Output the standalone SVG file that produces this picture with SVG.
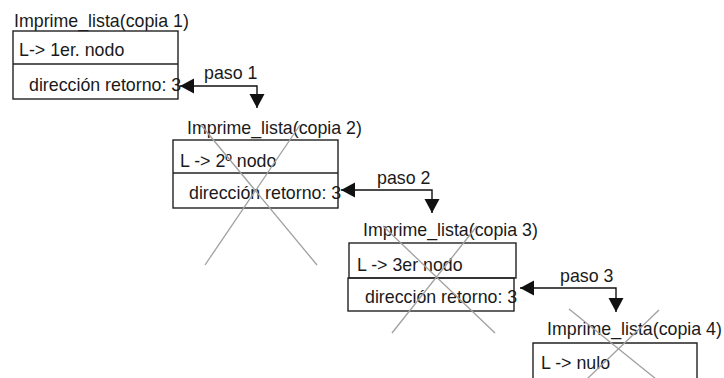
<svg xmlns="http://www.w3.org/2000/svg" width="724" height="378" viewBox="0 0 724 378">
<style>
text{font-family:"Liberation Sans",Arial,sans-serif;font-size:17.8px;fill:#1a1a1a}
.box{fill:none;stroke:#222;stroke-width:1.4}
.cross{stroke:#a0a0a0;stroke-width:1.3;fill:none}
.conn{fill:none;stroke:#111;stroke-width:1.4}
</style>
<defs>
<marker id="ah" markerUnits="userSpaceOnUse" markerWidth="16" markerHeight="16" refX="14" refY="7.5" orient="auto-start-reverse" viewBox="0 0 16 16">
<path d="M0,0 L14,7.5 L0,15 z" fill="#111"/>
</marker>
</defs>
<rect width="724" height="378" fill="#fff"/>
<g id="copia1">
<text x="14" y="27">Imprime_lista(copia 1)</text>
<rect class="box" x="13" y="31" width="165" height="68"/>
<line class="box" x1="13" y1="64" x2="178" y2="64"/>
<text x="19" y="56">L-&gt; 1er. nodo</text>
<text x="29" y="91">dirección retorno: 3</text>
</g>
<g id="copia2">
<text x="187" y="134">Imprime_lista(copia 2)</text>
<rect class="box" x="173" y="140" width="165" height="68"/>
<line class="box" x1="173" y1="173" x2="338" y2="173"/>
<text x="180" y="167">L -&gt; 2º nodo</text>
<text x="189" y="199">dirección retorno: 3</text>
<line class="cross" x1="201" y1="125" x2="317" y2="265"/>
<line class="cross" x1="300" y1="125" x2="205" y2="265"/>
</g>
<g id="copia3">
<text x="363" y="236">Imprime_lista(copia 3)</text>
<rect class="box" x="349" y="243" width="167" height="35"/>
<rect class="box" x="348" y="278" width="166" height="33"/>
<text x="357" y="271">L -&gt; 3er nodo</text>
<text x="365" y="303">dirección retorno: 3</text>
<line class="cross" x1="383" y1="226" x2="495" y2="333"/>
<line class="cross" x1="477" y1="226" x2="392" y2="333"/>
</g>
<g id="copia4">
<text x="547" y="335">Imprime_lista(copia 4)</text>
<path class="box" d="M533,380 V343 H697 V380"/>
<text x="541" y="369">L -&gt; nulo</text>
<line class="cross" x1="569" y1="309" x2="656" y2="379"/>
<line class="cross" x1="659" y1="310" x2="587" y2="379"/>
</g>
<g id="connectors">
<polyline class="conn" points="180,86 257,86 257,108" marker-start="url(#ah)" marker-end="url(#ah)"/>
<text x="204" y="79">paso 1</text>
<polyline class="conn" points="341,190 432,190 432,213" marker-start="url(#ah)" marker-end="url(#ah)"/>
<text x="377" y="184">paso 2</text>
<polyline class="conn" points="520,288 616,288 616,312" marker-start="url(#ah)" marker-end="url(#ah)"/>
<text x="560" y="282">paso 3</text>
</g>
</svg>
